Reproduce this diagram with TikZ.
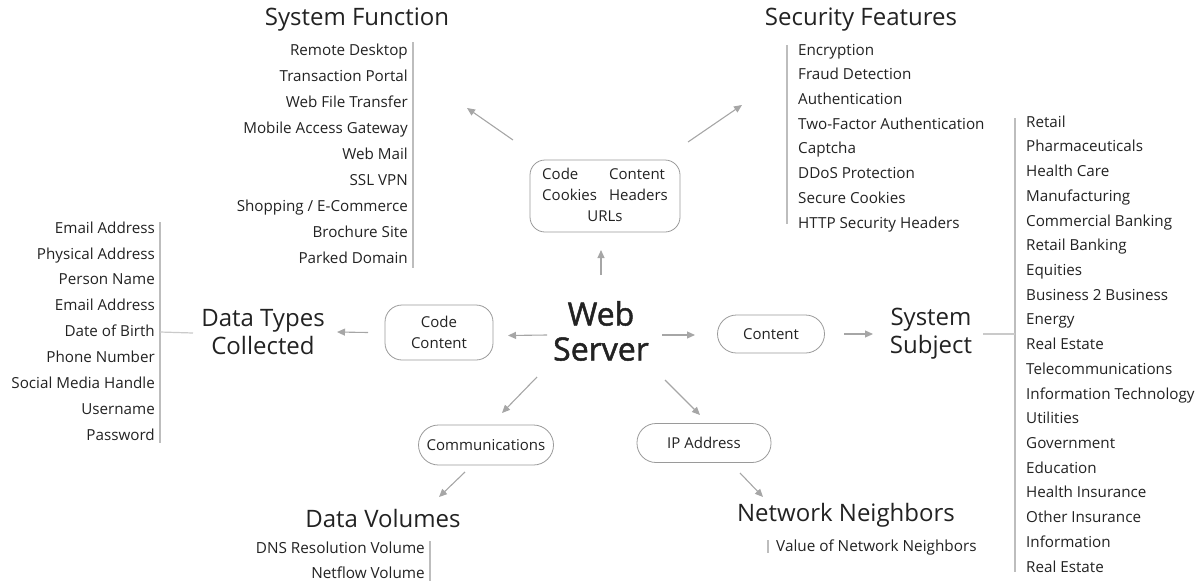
\documentclass[tikz,border=0pt]{standalone}
\usepackage{fontspec}
\setmainfont{Open Sans}
\newfontfamily\wsfont[FakeBold=1.5]{Open Sans}
\usetikzlibrary{arrows.meta}
\definecolor{arr}{HTML}{A6A6A6}
\definecolor{barc}{HTML}{BDBDBD}
\definecolor{boxc}{HTML}{9A9A9A}
\definecolor{txt}{HTML}{222222}
\begin{document}
\begin{tikzpicture}[x=1pt,y=-1pt,
  every node/.style={inner sep=0pt, text=txt},
  item/.style={font=\fontsize{15.2}{17}\selectfont},
  smallitem/.style={font=\fontsize{15.3}{17}\selectfont},
  ttl/.style={font=\fontsize{24}{28}\selectfont, align=center},
  rbox/.style={draw=boxc, line width=0.8pt, rounded corners=17pt, align=center,
    font=\fontsize{15}{21}\selectfont},
  conn/.style={draw=arr, line width=1.1pt, -{Triangle[length=8pt,width=7pt]}},
  barl/.style={draw=barc, line width=1.6pt},
  link/.style={draw=barc!80, line width=1.2pt}]
\useasboundingbox (0,0) rectangle (1202,584);

% centre
\node[minimum width=110pt, minimum height=84pt, align=center,
  font=\wsfont\fontsize{32}{35}\selectfont] (ws) at (601,331) {Web\\Server};

% boxes
\node[rbox, rounded corners=15pt, minimum width=150pt, minimum height=72pt] (tb) at (605,196)
  {\begin{tabular}{@{}l@{\hspace{12pt}}l@{}}Code & Content\\ Cookies & Headers\\ \multicolumn{2}{c}{URLs}\end{tabular}};
\node[rbox, minimum width=108pt, minimum height=55pt] (cc) at (439,332.5) {Code\\Content};
\node[rbox, rounded corners=19pt, minimum width=107pt, minimum height=38pt] (ct) at (771,334) {Content};
\node[rbox, rounded corners=20pt, minimum width=135pt, minimum height=40pt] (cm) at (486,445) {Communications};
\node[rbox, rounded corners=19pt, minimum width=134pt, minimum height=39pt] (ip) at (704,443) {IP Address};

% titles
\node[ttl] (sf) at (357,20) {System Function};
\node[ttl] (sec) at (861,20) {Security Features};
\node[ttl] (dtc) at (263,332) {Data Types\\Collected};
\node[ttl] (ss) at (931,334) {System\\Subject};
\node[ttl] (dv) at (383,518) {Data Volumes};
\node[ttl] (nn) at (846,515) {Network Neighbors};

% arrows
\draw[conn] ([shift={(0,-56)}]ws.center) -- ([shift={(-4,54)}]tb.center);
\draw[conn] ([shift={(-54,4)}]ws.center) -- ([shift={(69,3)}]cc.center);
\draw[conn] ([shift={(61,4)}]ws.center) -- ([shift={(-76,1)}]ct.center);
\draw[conn] ([shift={(-64,46)}]ws.center) -- ([shift={(16,-32)}]cm.center);
\draw[conn] ([shift={(64,49)}]ws.center) -- ([shift={(-4,-28)}]ip.center);
\draw[conn] ([shift={(-92,-56)}]tb.center) -- ([shift={(110,88)}]sf.center);
\draw[conn] ([shift={(83,-54)}]tb.center) -- ([shift={(-119,85)}]sec.center);
\draw[conn] ([shift={(-71,0)}]cc.center) -- ([shift={(74,0)}]dtc.center);
\draw[conn] ([shift={(73,0)}]ct.center) -- ([shift={(-58,0)}]ss.center);
\draw[conn] ([shift={(-21,27)}]cm.center) -- ([shift={(56,-21)}]dv.center);
\draw[conn] ([shift={(36,30)}]ip.center) -- ([shift={(-83,-18)}]nn.center);

% list bars
\coordinate (sfT) at (413,42);  \coordinate (sfB) at (413,268);
\coordinate (seT) at (787,45);  \coordinate (seB) at (787,224);
\coordinate (dtT) at (160,222); \coordinate (dtB) at (160,443);
\coordinate (ssT) at (1015,118); \coordinate (ssB) at (1015,572);
\coordinate (dvT) at (430,541); \coordinate (dvB) at (430,581);
\coordinate (nnT) at (768,540); \coordinate (nnB) at (768,553);
\foreach \a/\b in {sfT/sfB, seT/seB, dtT/dtB, ssT/ssB, dvT/dvB, nnT/nnB}
  \draw[barl] (\a) -- (\b);
\draw[link] ([shift={(-70,1)}]dtc.center) -- (dtT |- dtc.center);
\draw[link] ([shift={(52,0)}]ss.center) -- (ssT |- ss.center);

% lists
\foreach \t [count=\i from 0] in {Remote Desktop, Transaction Portal, Web File Transfer,
  Mobile Access Gateway, Web Mail, SSL VPN, Shopping / E-Commerce, Brochure Site, Parked Domain}
  \node[item, anchor=mid east] (sf\i) at (408,{52.5+26.1*\i}) {\t};
\foreach \t [count=\i from 0] in {Encryption, Fraud Detection, Authentication,
  Two-Factor Authentication, Captcha, DDoS Protection, Secure Cookies, HTTP Security Headers}
  \node[item, anchor=mid west] (se\i) at (798,{52.5+24.7*\i}) {\t};
\foreach \t [count=\i from 0] in {Email Address, Physical Address, Person Name, Email Address,
  Date of Birth, Phone Number, Social Media Handle, Username, Password}
  \node[item, anchor=mid east] (dt\i) at (155,{230.5+25.9*\i}) {\t};
\foreach \t [count=\i from 0] in {Retail, Pharmaceuticals, Health Care, Manufacturing,
  Commercial Banking, Retail Banking, Equities, Business 2 Business, Energy, Real Estate,
  Telecommunications, Information Technology, Utilities, Government, Education,
  Health Insurance, Other Insurance, Information, Real Estate}
  \node[item, anchor=mid west] (ss\i) at (1026,{124.5+24.72*\i}) {\t};
\node[smallitem, anchor=mid east] (dv0) at (425,551) {DNS Resolution Volume};
\node[smallitem, anchor=mid east] (dv1) at (425,576) {Netflow Volume};
\node[smallitem, anchor=mid west] (nn0) at (776,549) {Value of Network Neighbors};
\end{tikzpicture}
\end{document}
